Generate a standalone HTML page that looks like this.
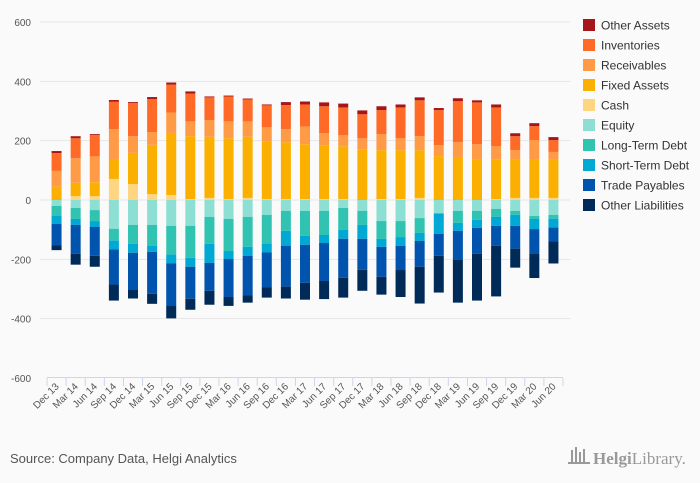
<!DOCTYPE html>
<html><head><meta charset="utf-8"><style>
body{margin:0;background:#fafafa;}
svg{display:block;font-family:"Liberation Sans",sans-serif;}
</style></head><body>
<svg id="chart" width="700" height="483" viewBox="0 0 700 483">
<rect width="700" height="483" fill="#fafafa"/>
<g id="grid"></g><g id="bars"></g><g id="axes"></g><g id="legend"></g>
<text x="10" y="463" font-size="13" fill="#555">Source: Company Data, Helgi Analytics</text>
<g>
<g fill="#999"><rect x="571" y="450" width="2" height="12"/><rect x="575" y="447" width="2" height="15"/><rect x="579" y="452" width="2" height="10"/><rect x="583" y="449" width="2" height="13"/><rect x="568" y="462" width="22" height="2"/></g>
<text x="593" y="464" font-size="17" fill="#999" font-family="Liberation Serif,serif"><tspan font-weight="bold">Helgi</tspan>Library.</text>
</g>
</svg>
<script>
const categories=["Dec 13","Mar 14","Jun 14","Sep 14","Dec 14","Mar 15","Jun 15","Sep 15","Dec 15","Mar 16","Jun 16","Sep 16","Dec 16","Mar 17","Jun 17","Sep 17","Dec 17","Mar 18","Jun 18","Sep 18","Dec 18","Mar 19","Jun 19","Sep 19","Dec 19","Mar 20","Jun 20"];
const cash=[0,13,13,71,54,20,17,3,7,3,7,3,3,3,3,3,0,3,3,7,0,0,0,3,7,7,7];
const fixedAssets=[45,45,47,64,105,166,209,212,206,205,206,195,192,185,182,178,171,165,165,161,148,145,138,134,131,131,131];
const receivables=[53,83,87,104,56,43,69,50,56,57,52,47,44,60,40,37,37,54,40,47,37,50,50,44,30,64,24];
const inventories=[60,67,72,92,112,111,94,94,77,84,74,74,81,74,91,94,81,81,104,121,118,138,141,131,47,47,40];
const otherAssets=[7,7,3,6,3,7,7,7,3,3,3,3,10,10,13,13,13,13,10,10,7,10,7,10,10,10,10];
const equity=[-20,-27,-34,-97,-84,-84,-87,-87,-57,-64,-57,-50,-37,-37,-37,-27,-37,-71,-71,-61,-44,-37,-37,-30,-37,-54,-50];
const longTermDebt=[-34,-37,-37,-40,-64,-71,-97,-108,-91,-108,-101,-97,-67,-84,-81,-74,-47,-60,-54,-50,-3,-40,-30,-27,-13,-10,-13];
const shortTermDebt=[-27,-20,-20,-30,-30,-20,-30,-30,-64,-27,-30,-30,-50,-30,-27,-30,-47,-27,-30,-27,-67,-27,-27,-30,-37,-34,-30];
const tradePayables=[-71,-97,-97,-118,-124,-141,-141,-108,-94,-128,-134,-118,-138,-128,-128,-131,-104,-101,-81,-87,-74,-97,-87,-67,-77,-84,-47];
const otherLiabilities=[-17,-37,-37,-54,-30,-34,-44,-37,-47,-30,-24,-34,-40,-57,-61,-67,-71,-60,-91,-124,-124,-145,-158,-171,-64,-81,-74];
const yTicks=[600,400,200,0,-200,-400,-600];

const NS="http://www.w3.org/2000/svg";
const X0=47,X1=563,Y0=200,SC=356/1200;
const band=(X1-X0)/categories.length;
const xC=i=>X0+band*(i+0.5);
const y=v=>Y0-v*SC;
function mk(tag,attrs,parent){const e=document.createElementNS(NS,tag);for(const k in attrs)e.setAttribute(k,attrs[k]);parent.appendChild(e);return e;}
const grid=document.getElementById('grid'),bars=document.getElementById('bars'),axes=document.getElementById('axes'),legend=document.getElementById('legend');
yTicks.forEach(t=>{
  if(t!==-600){const l=mk('line',{x1:X0-7,x2:X1+7,y1:y(t),y2:y(t),stroke:'#e6e6e6','stroke-width':1},grid);
  
  }
  const tx=mk('text',{x:31,y:y(t)+4,'font-size':10,fill:'#555','text-anchor':'end'},axes);tx.textContent=t;
  
  
});
const pos=[["Cash",cash,"#fed580"],["Fixed Assets",fixedAssets,"#fbb000"],["Receivables",receivables,"#ff9a47"],["Inventories",inventories,"#ff6b26"],["Other Assets",otherAssets,"#a4161a"]];
const neg=[["Equity",equity,"#8ddfd4"],["Long-Term Debt",longTermDebt,"#31c3b1"],["Short-Term Debt",shortTermDebt,"#00a8d4"],["Trade Payables",tradePayables,"#0054ad"],["Other Liabilities",otherLiabilities,"#002b59"]];
const bw=10;
categories.forEach((c,i)=>{
  let acc=0;
  pos.forEach(([n,arr,col])=>{const v=arr[i];if(v>0){const r=mk('rect',{x:xC(i)-bw/2,y:y(acc+v),width:bw,height:v*SC,fill:col},bars);
    
    }acc+=v;});
  acc=0;
  neg.forEach(([n,arr,col])=>{const v=arr[i];if(v<0){const r=mk('rect',{x:xC(i)-bw/2,y:y(acc),width:bw,height:-v*SC,fill:col},bars);
    
    }acc+=v;});
  const tk=mk('line',{x1:X0+band*i,x2:X0+band*i,y1:378,y2:386,stroke:'#ccd6eb'},axes);
  
  
  const tx=mk('text',{x:xC(i)+3,y:387,'font-size':10,fill:'#555','text-anchor':'end',transform:`rotate(-45 ${xC(i)+3} 387)`},axes);tx.textContent=c;
  
  
});
const tkl=mk('line',{x1:X1,x2:X1,y1:378,y2:386,stroke:'#ccd6eb'},axes);
const ax=mk('line',{x1:X0,x2:X1,y1:377.5,y2:377.5,stroke:'#ccd6eb'},axes);


const legItems=[pos[4],pos[3],pos[2],pos[1],pos[0],neg[0],neg[1],neg[2],neg[3],neg[4]];
legItems.forEach(([n,arr,col],k)=>{
  const g=mk('g',{},legend);
  
  
  const yy=25+k*20;
  mk('rect',{x:583,y:yy-6,width:12,height:12,fill:col},g);
  const t=mk('text',{x:601,y:yy+4.5,'font-size':12,fill:'#333'},g);t.textContent=n;
});
</script>
</body></html>
